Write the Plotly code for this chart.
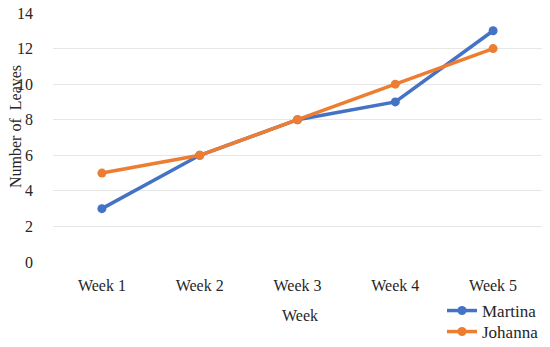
import plotly.graph_objects as go

weeks = ["Week 1", "Week 2", "Week 3", "Week 4", "Week 5"]
martina = [3, 6, 8, 9, 13]
johanna = [5, 6, 8, 10, 12]
y_ticks = [0, 2, 4, 6, 8, 10, 12, 14]

FONT = "Liberation Serif"
TXT = "#262626"
W, H = 542, 339  # page body has an 8px offset in the 550x347 window

fig = go.Figure()
fig.add_trace(go.Scatter(x=weeks, y=martina, name="Martina", mode="lines+markers",
                         line=dict(color="#4472C4", width=3.5),
                         marker=dict(size=9, color="#4472C4"), legend="legend"))
fig.add_trace(go.Scatter(x=weeks, y=johanna, name="Johanna", mode="lines+markers",
                         line=dict(color="#ED7D31", width=3.5),
                         marker=dict(size=9, color="#ED7D31"), legend="legend2"))

leg_common = dict(x=434 / W, xanchor="left", yanchor="middle",
                  bgcolor="rgba(0,0,0,0)", font=dict(family=FONT, size=17, color=TXT),
                  itemwidth=30)

fig.update_layout(
    width=W, height=H, autosize=False,
    margin=dict(l=0, r=0, t=0, b=0, autoexpand=False),
    paper_bgcolor="white", plot_bgcolor="white",
    font=dict(family=FONT, size=16, color=TXT),
    showlegend=True,
    legend=dict(y=(H - 303) / H, **leg_common),
    legend2=dict(y=(H - 324) / H, **leg_common),
    xaxis=dict(domain=[45 / W, 534 / W], range=[-0.5, 4.5],
               showgrid=False, showline=False, zeroline=False,
               ticks="", ticklabelstandoff=12, automargin=False,
               tickfont=dict(family=FONT, size=16, color=TXT)),
    yaxis=dict(domain=[(H - 254) / H, (H - 5) / H], range=[0, 14],
               tickvals=y_ticks, showgrid=True, automargin=False,
               gridcolor="#E6E6E6", gridwidth=1, zeroline=False,
               showline=False, ticks="", ticklabelstandoff=19,
               ticklabeloverflow="allow",
               tickfont=dict(family=FONT, size=16, color=TXT)),
    annotations=[
        dict(text="Week", xref="paper", yref="paper", x=292 / W, y=(H - 307) / H,
             xanchor="center", yanchor="middle", showarrow=False,
             font=dict(family=FONT, size=16, color=TXT)),
        dict(text="Number of  Leaves", xref="paper", yref="paper", x=8 / W,
             y=(H - 119) / H, textangle=-90, xanchor="center", yanchor="middle",
             showarrow=False, font=dict(family=FONT, size=16, color=TXT)),
    ],
)

fig.write_html("out.html")
